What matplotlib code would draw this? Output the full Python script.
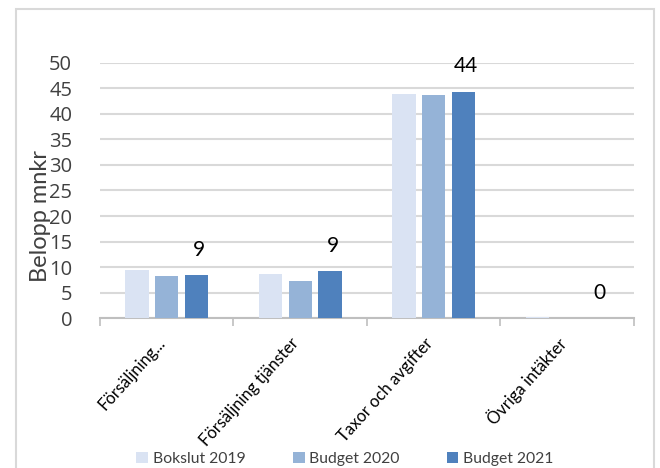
import numpy as np
import matplotlib
matplotlib.use("Agg")
import matplotlib.pyplot as plt
from matplotlib.patches import Rectangle

# Chart data
categories = ["Försäljning...", "Försäljning tjänster", "Taxor och avgifter", "Övriga intäkter"]
series_names = ["Bokslut 2019", "Budget 2020", "Budget 2021"]
bokslut_2019 = [9.5, 8.7, 43.9, 0.1]
budget_2020 = [8.3, 7.3, 43.8, 0.0]
budget_2021 = [8.4, 9.2, 44.4, 0.0]
value_labels = ["9", "9", "44", "0"]
y_ticks = [0, 5, 10, 15, 20, 25, 30, 35, 40, 45, 50]

colors = ["#DAE3F3", "#95B3D7", "#4F81BD"]
grid_color = "#D9D9D9"
text_color = "#404040"

plt.rcParams["font.family"] = ["Lato", "DejaVu Sans"]

fig = plt.figure(figsize=(6.6, 4.68), dpi=100)
ax = fig.add_axes([0.1515, 0.3205, 0.8091, 0.5449])

# outer chart frame like the spreadsheet chart object
fig.patches.append(Rectangle((16 / 660, -0.05), (654 - 16) / 660, 1 - 9 / 468 + 0.05,
                             transform=fig.transFigure, fill=False,
                             edgecolor=grid_color, linewidth=1.5))

x = np.arange(len(categories))
width = 0.175
step = 0.222
all_series = [bokslut_2019, budget_2020, budget_2021]
for i, (vals, name, col) in enumerate(zip(all_series, series_names, colors)):
    ax.bar(x + (i - 1) * step, vals, width, color=col, label=name, zorder=3)

# data labels above the last series
for xi, v, lab in zip(x, budget_2021, value_labels):
    ax.annotate(lab, (xi + step, v), xytext=(2, 11), textcoords="offset points",
                ha="center", va="bottom", fontsize=15, color="black")

ax.set_xlim(-0.5, len(categories) - 0.5)
ax.set_ylim(0, 50)
ax.set_yticks(y_ticks)
ax.set_yticklabels([str(t) for t in y_ticks], fontsize=14.5, color=text_color,
                   family=["Open Sans", "DejaVu Sans"])
ax.tick_params(axis="y", length=0, pad=20)
ax.grid(axis="y", color=grid_color, linewidth=1.5, zorder=0)
ax.set_axisbelow(True)

# category tick marks at boundaries, labels at centers
ax.set_xticks(np.arange(-0.5, len(categories)), minor=False)
ax.set_xticklabels([])
ax.tick_params(axis="x", which="major", length=6, color="#BFBFBF", width=1.2, direction="out")
ax.set_xticks(x - 0.03, minor=True)
ax.set_xticklabels(categories, minor=True, rotation=48, ha="right", va="center",
                   rotation_mode="anchor", fontsize=12, color="black")
ax.tick_params(axis="x", which="minor", length=0, pad=16)

for side in ["top", "right", "left"]:
    ax.spines[side].set_visible(False)
ax.spines["bottom"].set_color("#BFBFBF")
ax.spines["bottom"].set_linewidth(1.5)

ax.set_ylabel("Belopp mnkr", fontsize=17, color=text_color)
ax.yaxis.set_label_coords(-0.092, 0.40)

ax.legend(loc="center", bbox_to_anchor=(345 / 660, 9 / 468), bbox_transform=fig.transFigure,
          ncol=3, frameon=False, fontsize=11.3, handlelength=0.75, handleheight=0.75,
          handletextpad=0.3, columnspacing=3.0, labelcolor=text_color)

fig.savefig("out.png", dpi=100)
